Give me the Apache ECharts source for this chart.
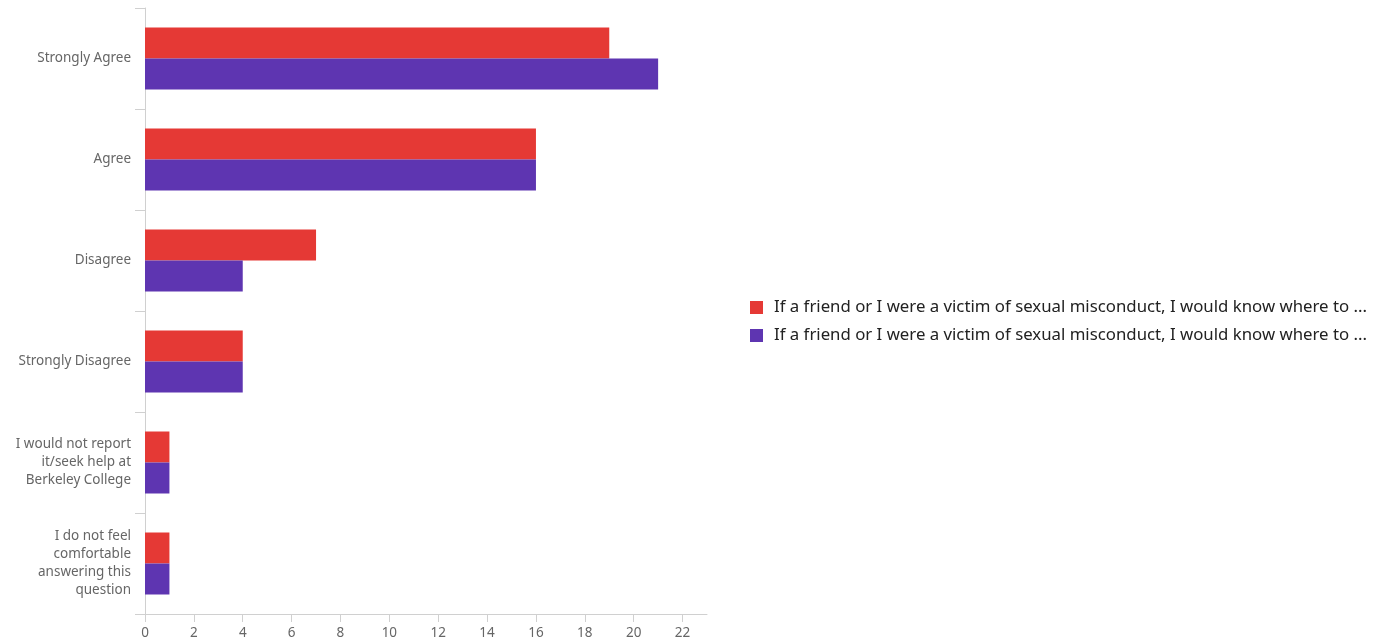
<!DOCTYPE html>
<html>
<head>
<meta charset="utf-8">
<script src="https://cdn.jsdelivr.net/npm/echarts@6/dist/echarts.min.js"></script>
<style>
html,body{margin:0;padding:0;background:#fff;}
#chart{width:1385px;height:643px;}
</style>
</head>
<body>
<div id="chart"></div>
<script>
const categories = [
  "Strongly Agree",
  "Agree",
  "Disagree",
  "Strongly Disagree",
  "I would not report\nit/seek help at\nBerkeley College",
  "I do not feel\ncomfortable\nanswering this\nquestion"
];
const seriesNames = [
  "If a friend or I were a victim of sexual misconduct, I would know where to ...",
  "If a friend or I were a victim of sexual misconduct, I would know where to ... "
];
const series1 = [19, 16, 7, 4, 1, 1];
const series2 = [21, 16, 4, 4, 1, 1];
const xTicks = [0, 2, 4, 6, 8, 10, 12, 14, 16, 18, 20, 22];

const chart = echarts.init(document.getElementById('chart'), null, {renderer: 'canvas'});
const font = '"Noto Sans", "Open Sans", sans-serif';
chart.setOption({
  animation: false,
  textStyle: {fontFamily: font},
  grid: {left: 145, right: 678, top: 8, bottom: 29, containLabel: false},
  legend: {
    orient: 'vertical',
    left: 750,
    top: 299,
    padding: 0,
    itemWidth: 13,
    itemHeight: 13,
    itemGap: 11,
    icon: 'rect',
    textStyle: {fontSize: 16.8, color: '#222', fontFamily: font, padding: [0, 0, 0, 6]},
    data: seriesNames
  },
  xAxis: {
    type: 'value',
    min: 0,
    max: 23,
    interval: 2,
    splitLine: {show: false},
    axisLine: {show: true, lineStyle: {color: '#d0d0d0', width: 1}},
    axisTick: {show: true, length: 8, lineStyle: {color: '#d0d0d0'}, customValues: xTicks},
    axisLabel: {color: '#666', fontSize: 13.5, margin: 12, customValues: xTicks}
  },
  yAxis: {
    type: 'category',
    inverse: true,
    data: categories,
    axisLine: {show: true, lineStyle: {color: '#d0d0d0', width: 1}},
    axisTick: {show: true, length: 10, lineStyle: {color: '#d0d0d0'}},
    axisLabel: {color: '#666', fontSize: 13.5, margin: 14, lineHeight: 18, align: 'right'}
  },
  series: [
    {name: seriesNames[0], type: 'bar', data: series1, barWidth: 31, barGap: '0%',
     itemStyle: {color: '#e53935'}},
    {name: seriesNames[1], type: 'bar', data: series2, barWidth: 31, barGap: '0%',
     itemStyle: {color: '#5e35b1'}}
  ]
});
</script>
</body>
</html>
